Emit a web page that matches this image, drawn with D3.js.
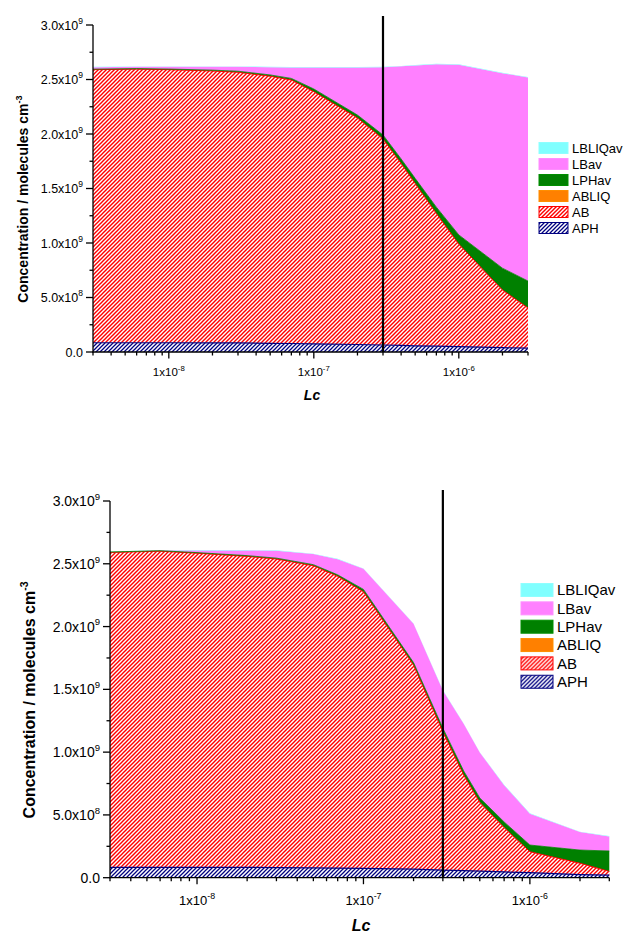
<!DOCTYPE html>
<html>
<head>
<meta charset="utf-8">
<script src="https://cdn.jsdelivr.net/npm/d3@7"></script>
<style>
body { margin: 0; background: #fff; }
svg { display: block; }
text { font-family: Arial, "Liberation Sans", sans-serif; fill: #000; }
</style>
</head>
<body>
<div class="chart"></div>
<script>
const width = 624,
      height = 933;

// Lc values (x), shared by both panels
const lc = [3e-9, 6e-9, 1e-8, 2e-8, 3e-8, 5e-8, 7e-8, 1e-7, 2e-7, 3e-7, 4e-7, 5e-7, 7e-7, 1e-6, 2e-6, 3e-6];

// series values, units of 1e9 molecules cm-3 (each layer on its own, stacked)
const topAPH     = [0.085, 0.085, 0.085, 0.084, 0.083, 0.080, 0.078, 0.075, 0.069, 0.064, 0.060, 0.057, 0.053, 0.050, 0.040, 0.035];
const topAB      = [2.505, 2.510, 2.505, 2.494, 2.483, 2.450, 2.417, 2.313, 2.078, 1.890, 1.669, 1.489, 1.218, 0.939, 0.529, 0.369];
const topABLIQ   = [0, 0, 0, 0, 0, 0, 0, 0, 0, 0, 0, 0, 0, 0, 0, 0];
const topLPHav   = [0.005, 0.005, 0.006, 0.008, 0.010, 0.012, 0.015, 0.025, 0.027, 0.037, 0.042, 0.047, 0.058, 0.085, 0.200, 0.247];
const topLBav    = [0.018, 0.016, 0.020, 0.030, 0.040, 0.071, 0.101, 0.198, 0.437, 0.622, 0.850, 1.035, 1.312, 1.562, 1.789, 1.868];
const topLBLIQav = [0.004, 0.004, 0.004, 0.004, 0.004, 0.004, 0.004, 0.004, 0.004, 0.004, 0.004, 0.004, 0.004, 0.004, 0.004, 0.004];

const botAPH     = [0.083, 0.083, 0.083, 0.082, 0.081, 0.079, 0.077, 0.075, 0.068, 0.061, 0.056, 0.052, 0.046, 0.040, 0.025, 0.020];
const botAB      = [2.507, 2.517, 2.501, 2.477, 2.457, 2.405, 2.323, 2.202, 1.625, 1.101, 0.762, 0.548, 0.353, 0.167, 0.090, 0.030];
const botABLIQ   = [0, 0, 0, 0, 0, 0, 0, 0, 0, 0, 0, 0, 0, 0, 0, 0];
const botLPHav   = [0.004, 0.004, 0.005, 0.006, 0.007, 0.009, 0.012, 0.019, 0.020, 0.028, 0.032, 0.035, 0.045, 0.053, 0.105, 0.163];
const botLBav    = [0.000, 0.003, 0.017, 0.041, 0.059, 0.084, 0.125, 0.164, 0.309, 0.301, 0.376, 0.362, 0.293, 0.250, 0.143, 0.116];
const botLBLIQav = [0.003, 0.003, 0.003, 0.003, 0.003, 0.003, 0.003, 0.003, 0.003, 0.003, 0.003, 0.003, 0.003, 0.003, 0.003, 0.003];

const stackKeys = ["APH", "AB", "ABLIQ", "LPHav", "LBav", "LBLIQav"];
const legendKeys = ["LBLIQav", "LBav", "LPHav", "ABLIQ", "AB", "APH"];
const colors = {LBLIQav: "#80ffff", LBav: "#ff80ff", LPHav: "#008000", ABLIQ: "#ff8000", AB: "#ff0000", APH: "#000080"};

// axis ticks and labels
const yTicks = [0, 0.5, 1.0, 1.5, 2.0, 2.5, 3.0];
const yTickMant = ["0.0", "5.0x10", "1.0x10", "1.5x10", "2.0x10", "2.5x10", "3.0x10"];
const yTickExp = ["", "8", "9", "9", "9", "9", "9"];
const yMinor = [0.25, 0.75, 1.25, 1.75, 2.25, 2.75];
const xTicks = [1e-8, 1e-7, 1e-6];
const xTickExp = ["-8", "-7", "-6"];
const xDomain = [3e-9, 3e-6];
const yDomain = [0, 3];
const markLc = 3e-7;

const panels = [
  {id: "top", left: 93, right: 528, top: 25, bottom: 352, lineTop: 16,
   series: {APH: topAPH, AB: topAB, ABLIQ: topABLIQ, LPHav: topLPHav, LBav: topLBav, LBLIQav: topLBLIQav},
   yFont: 12.5, xFont: 11.5, xLabY: 376, titleSize: 14, titleX: 28, titleY: 199, lcX: 312, lcY: 400,
   legX: 539, legY: 148, legRow: 16, legW: 29, legH: 11, legFont: 13},
  {id: "bot", left: 110, right: 609.3, top: 501, bottom: 877.7, lineTop: 490,
   series: {APH: botAPH, AB: botAB, ABLIQ: botABLIQ, LPHav: botLPHav, LBav: botLBav, LBLIQav: botLBLIQav},
   yFont: 14, xFont: 13, xLabY: 905, titleSize: 16, titleX: 35, titleY: 700, lcX: 361, lcY: 931,
   legX: 521, legY: 590, legRow: 18.35, legW: 32, legH: 13, legFont: 15}
];

const svg = d3.select(".chart")
              .append("svg")
              .attr("width", width)
              .attr("height", height)
              .attr("viewBox", [0, 0, width, height]);

const defs = svg.append("defs");
// "/" hatching in a 4x4 tile, drawn as filled bands (h = half width, horizontally)
function hatch(id, color, h){
    const s = 4;
    const p = defs.append("pattern").attr("id", id)
        .attr("patternUnits", "userSpaceOnUse")
        .attr("width", s).attr("height", s);
    p.append("rect").attr("width", s).attr("height", s).attr("fill", "#fff");
    const d = "M0," + (s - h) + "L" + (s - h) + ",0L" + s + ",0L" + s + "," + h + "L" + h + "," + s + "L0," + s + "Z" +
              "M0,0L" + h + ",0L0," + h + "Z" +
              "M" + s + "," + (s - h) + "L" + s + "," + s + "L" + (s - h) + "," + s + "Z";
    p.append("path").attr("d", d).attr("fill", color);
}
hatch("hatchAB", colors.AB, 1);
hatch("hatchAPH", colors.APH, 0.9);

function fillOf(k){
    if (k == "AB") return "url(#hatchAB)";
    if (k == "APH") return "url(#hatchAPH)";
    return colors[k];
}

panels.forEach(function(p){ drawPanel(p); });

function drawPanel(p){
    const g = svg.append("g").classed(p.id, true);

    const x = d3.scaleLog().domain(xDomain).range([p.left, p.right]);
    const y = d3.scaleLinear().domain(yDomain).range([p.bottom, p.top]);

    const rows = lc.map(function(v, i){
        const r = {lc: v};
        stackKeys.forEach(function(k){ r[k] = p.series[k][i]; });
        return r;
    });
    const stacked = d3.stack().keys(stackKeys)(rows);

    const area = d3.area()
        .x(function(d){ return x(d.data.lc); })
        .y0(function(d){ return y(d[0]); })
        .y1(function(d){ return y(d[1]); });
    const top = d3.line()
        .x(function(d){ return x(d.data.lc); })
        .y(function(d){ return y(d[1]); });

    g.append("g").selectAll("path").data(stacked).enter().append("path")
     .attr("d", area)
     .attr("fill", function(s){ return fillOf(s.key); });

    const edge = {APH: 1.2, AB: 1, LPHav: 0.8};
    g.append("g").selectAll("path").data(stacked.filter(function(s){ return edge[s.key]; })).enter().append("path")
     .attr("d", top)
     .attr("fill", "none")
     .attr("stroke", function(s){ return colors[s.key]; })
     .attr("stroke-width", function(s){ return edge[s.key]; });

    // marker line at Lc = 3e-7
    g.append("line")
     .attr("x1", x(markLc)).attr("x2", x(markLc))
     .attr("y1", p.lineTop).attr("y2", p.bottom)
     .attr("stroke", "#000").attr("stroke-width", 2.2);

    // y axis
    const ya = g.append("g").attr("stroke", "#000").attr("stroke-width", 1.3);
    ya.append("line").attr("x1", p.left).attr("x2", p.left).attr("y1", y(3)).attr("y2", p.bottom + 0.6);
    ya.selectAll(".maj").data(yTicks).enter().append("line")
      .attr("x1", p.left - 7).attr("x2", p.left)
      .attr("y1", function(d){ return y(d); }).attr("y2", function(d){ return y(d); });
    ya.selectAll(".min").data(yMinor).enter().append("line")
      .attr("x1", p.left - 3.5).attr("x2", p.left)
      .attr("y1", function(d){ return y(d); }).attr("y2", function(d){ return y(d); });

    const yl = g.append("g").selectAll("text").data(yTicks).enter().append("text")
      .attr("x", p.left - 10)
      .attr("y", function(d){ return y(d) + p.yFont * 0.36; })
      .attr("text-anchor", "end")
      .style("font-size", p.yFont + "px");
    yl.append("tspan").text(function(d, i){ return yTickMant[i]; });
    yl.append("tspan").attr("dy", -p.yFont * 0.45).style("font-size", (p.yFont * 0.68) + "px")
      .text(function(d, i){ return yTickExp[i]; });

    // x axis
    const xa = g.append("g").attr("stroke", "#000").attr("stroke-width", 1.3);
    xa.append("line").attr("x1", p.left - 0.6).attr("x2", p.right).attr("y1", p.bottom).attr("y2", p.bottom);
    const minorX = x.ticks().filter(function(t){ return xTicks.indexOf(t) < 0; });
    xa.selectAll(".min").data(minorX).enter().append("line")
      .attr("x1", function(d){ return x(d); }).attr("x2", function(d){ return x(d); })
      .attr("y1", p.bottom).attr("y2", p.bottom + 3.5);
    xa.selectAll(".maj").data(xTicks).enter().append("line")
      .attr("x1", function(d){ return x(d); }).attr("x2", function(d){ return x(d); })
      .attr("y1", p.bottom).attr("y2", p.bottom + 6.5);

    const xl = g.append("g").selectAll("text").data(xTicks).enter().append("text")
      .attr("x", function(d){ return x(d); })
      .attr("y", p.xLabY)
      .attr("text-anchor", "middle")
      .style("font-size", p.xFont + "px");
    xl.append("tspan").text("1x10");
    xl.append("tspan").attr("dy", -p.xFont * 0.45).style("font-size", (p.xFont * 0.68) + "px")
      .text(function(d, i){ return xTickExp[i]; });

    // titles
    const yt = g.append("text")
      .attr("transform", "translate(" + p.titleX + "," + p.titleY + ")rotate(-90)")
      .attr("text-anchor", "middle")
      .style("font-size", p.titleSize + "px").style("font-weight", "bold");
    yt.append("tspan").text("Concentration / molecules cm");
    yt.append("tspan").attr("dy", -p.titleSize * 0.45).style("font-size", (p.titleSize * 0.65) + "px").text("-3");

    g.append("text")
     .attr("x", p.lcX).attr("y", p.lcY)
     .attr("text-anchor", "middle")
     .style("font-size", p.titleSize + "px").style("font-weight", "bold").style("font-style", "italic")
     .text("Lc");

    // legend
    const lg = g.append("g").selectAll("g").data(legendKeys).enter().append("g")
      .attr("transform", function(d, i){ return "translate(" + p.legX + "," + (p.legY + i * p.legRow) + ")"; });
    lg.append("rect")
      .attr("x", 0).attr("y", -p.legH / 2)
      .attr("width", p.legW).attr("height", p.legH)
      .attr("fill", function(d){ return fillOf(d); })
      .attr("stroke", function(d){ return (d == "AB" || d == "APH") ? colors[d] : d3.color(colors[d]).brighter(0.3); })
      .attr("stroke-width", 1);
    lg.append("text")
      .attr("x", p.legW + 4)
      .attr("y", p.legFont * 0.36)
      .style("font-size", p.legFont + "px")
      .text(function(d){ return d; });
}
</script>
</body>
</html>
